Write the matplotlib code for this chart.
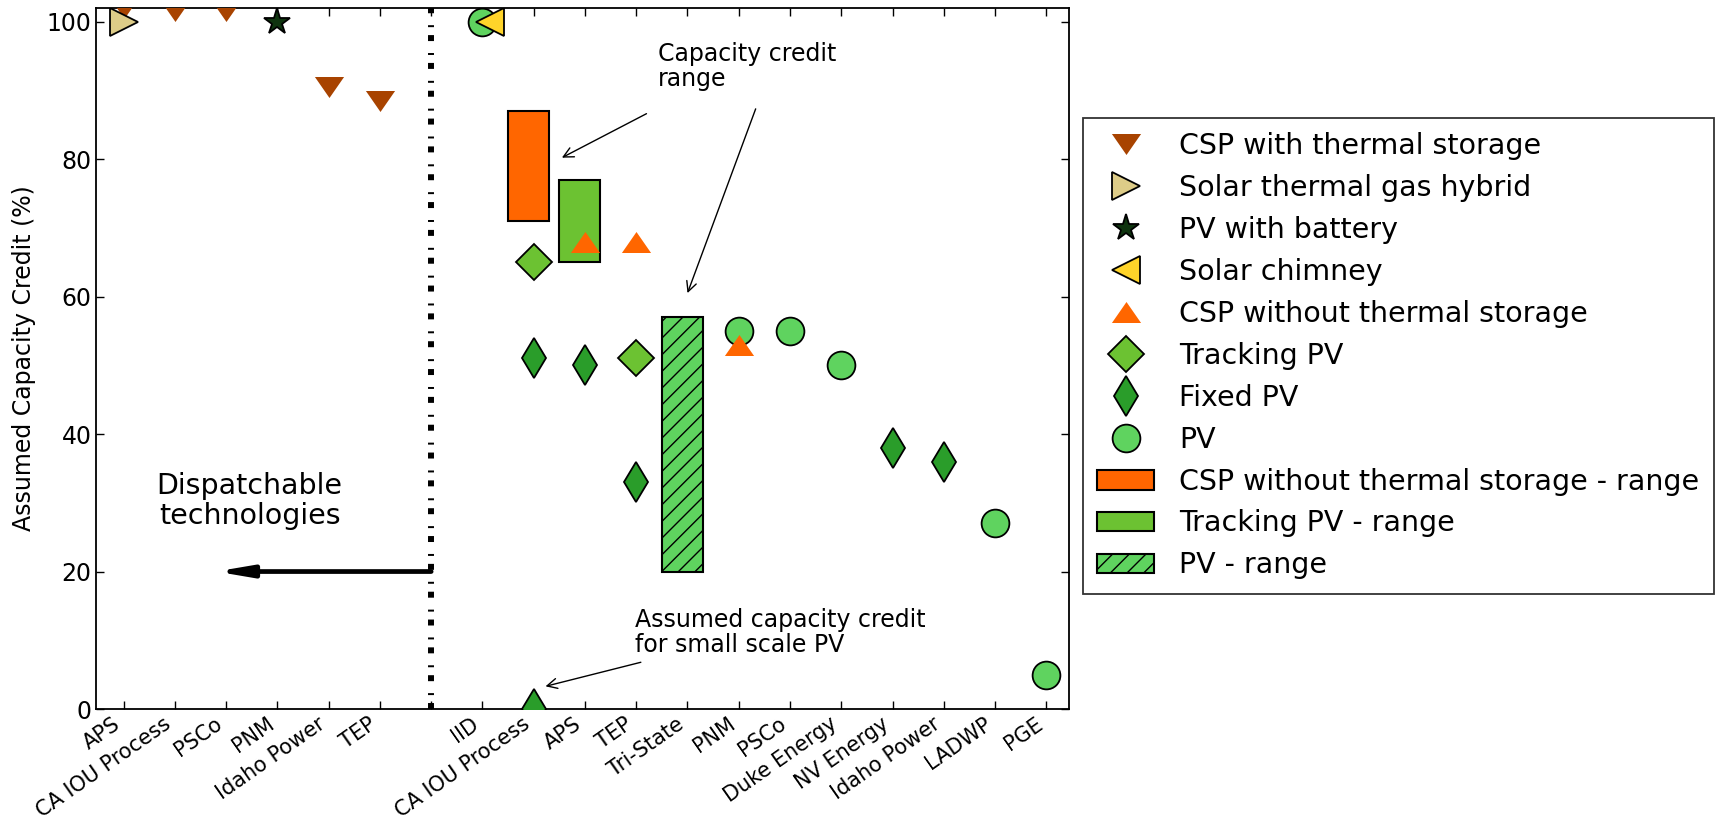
import matplotlib
matplotlib.use('Agg')
import matplotlib.pyplot as plt
import numpy as np
from matplotlib.patches import Patch
from matplotlib.lines import Line2D

# categories along the x axis (empty slot = divider between groups)
categories = ['APS', 'CA IOU Process', 'PSCo', 'PNM', 'Idaho Power', 'TEP', '',
              'IID', 'CA IOU Process', 'APS', 'TEP', 'Tri-State', 'PNM', 'PSCo',
              'Duke Energy', 'NV Energy', 'Idaho Power', 'LADWP', 'PGE']
divider_x = 6

# point series: category index and assumed capacity credit (%)
csp_storage_x = [0, 1, 2, 4, 5]
csp_storage_y = [102, 101.5, 101.5, 90.5, 88.5]
hybrid_x = [0]
hybrid_y = [100]
battery_x = [3]
battery_y = [100]
chimney_x = [7.15]
chimney_y = [100]
csp_nostorage_x = [9, 10, 12]
csp_nostorage_y = [68, 68, 53]
tracking_x = [8, 10]
tracking_y = [65, 51]
fixed_x = [8, 9, 10, 15, 16, 8]
fixed_y = [51, 50, 33, 38, 36, 0]
pv_x = [7, 12, 13, 14, 17, 18]
pv_y = [100, 55, 55, 50, 27, 5]

# range bars: category index, low, high
csp_range_x, csp_range_lo, csp_range_hi = [8], [71], [87]
trk_range_x, trk_range_lo, trk_range_hi = [9], [65], [77]
pv_range_x, pv_range_lo, pv_range_hi = [11], [20], [57]

# colours
c_csp_st = '#A84300'
c_hybrid = '#DDCC88'
c_battery = '#0E330E'
c_chimney = '#FFD42A'
c_csp = '#FF6600'
c_track = '#6CC232'
c_fixed = '#2A9D2A'
c_pv = '#5FD35F'

tri_up = [(0, 0.72), (-1, -0.72), (1, -0.72)]
tri_down = [(0, -0.72), (-1, 0.72), (1, 0.72)]
ms = 20

fig = plt.figure(figsize=(17.19, 8.23), dpi=100)
ax = fig.add_axes([0.0561, 0.1385, 0.566, 0.852])

# range bars
def range_bar(xs, lo, hi, color, hatch=None):
    xs = np.array(xs, dtype=float)
    lo = np.array(lo, dtype=float)
    hi = np.array(hi, dtype=float)
    ax.bar(xs - 0.5, hi - lo, bottom=lo, width=0.8, align='edge', color=color,
           edgecolor='black', linewidth=1.5, hatch=hatch, zorder=2)

range_bar(csp_range_x, csp_range_lo, csp_range_hi, c_csp)
range_bar(trk_range_x, trk_range_lo, trk_range_hi, c_track)
range_bar(pv_range_x, pv_range_lo, pv_range_hi, c_pv, hatch='//')

kw = dict(linestyle='none', markersize=ms, markeredgecolor='black', markeredgewidth=1.3)
ax.plot(pv_x, pv_y, marker='o', color=c_pv, zorder=3, **kw)
ax.plot(csp_storage_x, csp_storage_y, marker=tri_down, color=c_csp_st, linestyle='none',
        markersize=ms + 1, markeredgewidth=0, zorder=4)
ax.plot(hybrid_x, hybrid_y, marker='>', color=c_hybrid, zorder=5, **kw)
ax.plot(battery_x, battery_y, marker='*', color=c_battery, zorder=5, **kw)
ax.plot(chimney_x, chimney_y, marker='<', color=c_chimney, zorder=5, **kw)
ax.plot(tracking_x, tracking_y, marker='D', color=c_track, zorder=4,
        linestyle='none', markersize=ms * 0.92, markeredgecolor='black', markeredgewidth=1.3)
ax.plot(fixed_x, fixed_y, marker='d', color=c_fixed, zorder=4, **kw)
ax.plot(csp_nostorage_x, csp_nostorage_y, marker=tri_up, color=c_csp, linestyle='none',
        markersize=ms + 1, markeredgewidth=0, zorder=6)

# divider between dispatchable and variable technologies
ax.axvline(divider_x, color='black', linewidth=4.3,
           linestyle=(0, (1, 1.33, 0.33, 2.0)), zorder=1)
ax.annotate('', xy=(1.8, 20), xytext=(divider_x, 20),
            arrowprops=dict(arrowstyle='-|>,head_length=1.0,head_width=0.17',
                            color='black', lw=3.4, mutation_scale=20,
                            shrinkA=0, shrinkB=0))
ax.text(2.46, 30.3, 'Dispatchable\ntechnologies', ha='center', va='center',
        fontsize=20.5, linespacing=1.1)

# annotations
ax.text(10.42, 97, 'Capacity credit\nrange', ha='left', va='top', fontsize=17,
        linespacing=1.05)
ap = dict(arrowstyle='->', color='black', lw=1, mutation_scale=18, shrinkA=0, shrinkB=0)
ax.annotate('', xy=(8.55, 80.2), xytext=(10.2, 86.6), arrowprops=ap)
ax.annotate('', xy=(11.0, 60.5), xytext=(12.33, 87.3), arrowprops=ap)
ax.text(9.97, 14.7, 'Assumed capacity credit\nfor small scale PV', ha='left', va='top',
        fontsize=17, linespacing=1.05)
ax.annotate('', xy=(8.23, 3.3), xytext=(10.09, 6.8), arrowprops=ap)

ax.set_xlim(-0.53, 18.45)
ax.set_ylim(0, 102)
ax.set_xticks(range(len(categories)))
ax.set_xticklabels(categories, rotation=35, ha='right', fontsize=15)
ax.set_yticks([0, 20, 40, 60, 80, 100])
ax.tick_params(axis='y', labelsize=17)
ax.tick_params(direction='in', length=6, width=1, top=True, right=True)
for s in ax.spines.values():
    s.set_linewidth(1.3)
ax.set_ylabel('Assumed Capacity Credit (%)', fontsize=17, labelpad=8)

handles = [
    Line2D([], [], marker=tri_down, color=c_csp_st, linestyle='none', markersize=ms + 1, markeredgewidth=0),
    Line2D([], [], marker='>', color=c_hybrid, **kw),
    Line2D([], [], marker='*', color=c_battery, **kw),
    Line2D([], [], marker='<', color=c_chimney, **kw),
    Line2D([], [], marker=tri_up, color=c_csp, linestyle='none', markersize=ms + 1, markeredgewidth=0),
    Line2D([], [], marker='D', color=c_track, linestyle='none', markersize=ms * 0.92,
           markeredgecolor='black', markeredgewidth=1.3),
    Line2D([], [], marker='d', color=c_fixed, **kw),
    Line2D([], [], marker='o', color=c_pv, **kw),
    Patch(facecolor=c_csp, edgecolor='black', linewidth=1.5),
    Patch(facecolor=c_track, edgecolor='black', linewidth=1.5),
    Patch(facecolor=c_pv, edgecolor='black', linewidth=1.5, hatch='//'),
]
labels = ['CSP with thermal storage', 'Solar thermal gas hybrid', 'PV with battery',
          'Solar chimney', 'CSP without thermal storage', 'Tracking PV', 'Fixed PV', 'PV',
          'CSP without thermal storage - range', 'Tracking PV - range', 'PV - range']
leg = fig.legend(handles, labels, loc='upper left', bbox_to_anchor=(0.630, 0.857),
                 fontsize=20.5, frameon=True, fancybox=False, edgecolor='black',
                 handlelength=2.0, handletextpad=0.88, labelspacing=0.49,
                 borderpad=0.5, borderaxespad=0)
leg.get_frame().set_linewidth(1.3)

plt.savefig('out.png', dpi=100)
